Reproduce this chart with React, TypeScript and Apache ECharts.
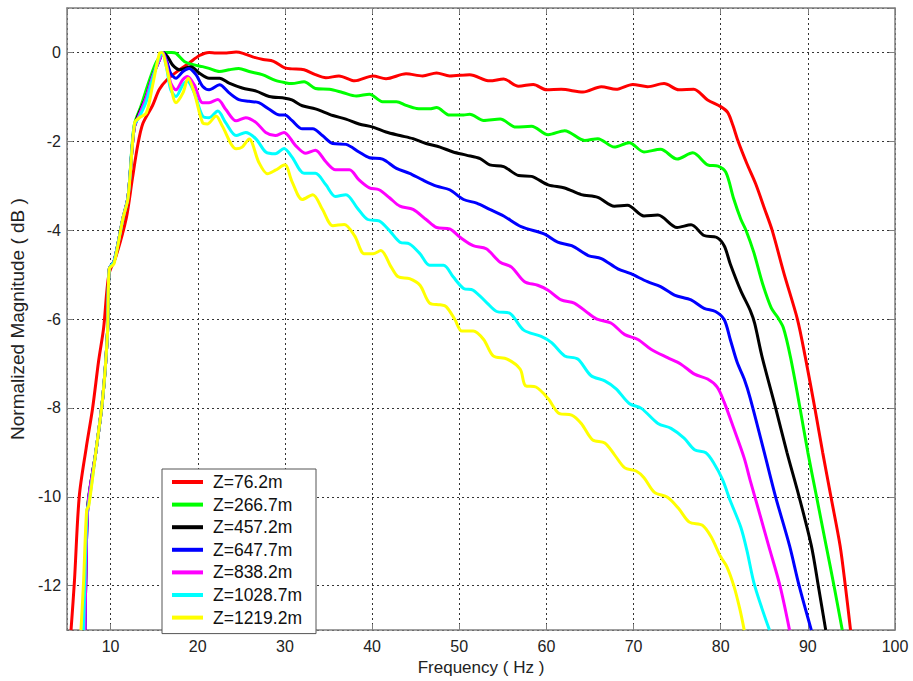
import React, { useEffect, useRef } from "react";
import * as echarts from "echarts";

const seriesNames = ["Z=76.2m", "Z=266.7m", "Z=457.2m", "Z=647.7m", "Z=838.2m", "Z=1028.7m", "Z=1219.2m"];
const seriesColors = ["#ff0000", "#00ff00", "#000000", "#0000ff", "#ff00ff", "#00ffff", "#ffff00"];

const z76 = [[5.46,-13],[5.85,-11.9],[6.4,-10],[7.2,-8.9],[7.94,-8.0],[8.62,-6.95],[9.2,-6.2],[9.8,-5.0],[10.6,-4.6],[11.8,-3.73],[12.5,-2.84],[13.1,-2.1],[13.7,-1.6],[14.8,-1.2],[15.6,-0.83],[16.5,-0.61],[17.9,-0.39],[19.0,-0.24],[20.2,-0.07],[21.3,0],[22.1,-0.01],[23.3,-0.01],[24.4,0.01],[25.2,-0.02],[26.3,-0.1],[27.5,-0.16],[28.7,-0.2],[30.0,-0.35],[30.8,-0.37],[32.2,-0.39],[33.5,-0.5],[34.7,-0.57],[36.2,-0.53],[38.0,-0.64],[40.1,-0.53],[41.6,-0.59],[43.9,-0.48],[45.8,-0.53],[47.4,-0.46],[48.9,-0.53],[51.2,-0.5],[53.5,-0.64],[55.1,-0.6],[56.8,-0.76],[58.5,-0.72],[60.0,-0.84],[61.7,-0.83],[64.2,-0.89],[66.3,-0.77],[68.0,-0.83],[69.9,-0.72],[71.6,-0.77],[73.5,-0.7],[75.2,-0.84],[76.9,-0.83],[78.5,-1.07],[80.0,-1.22],[80.8,-1.35],[81.4,-1.64],[82.0,-2.0],[83.0,-2.5],[84.0,-2.95],[85.0,-3.5],[85.9,-4.0],[87.3,-5.0],[88.8,-6.0],[89.7,-6.85],[90.8,-8.0],[91.7,-9.0],[92.65,-10.0],[93.7,-11.1],[94.3,-12],[94.9,-13]];

const z267 = [[7.0,-13],[7.1,-11.9],[7.37,-10.2],[8.3,-9.0],[9.1,-7.77],[9.65,-6.28],[9.85,-4.87],[10.4,-4.7],[11.4,-3.75],[12.0,-3.25],[12.7,-1.65],[13.5,-1.2],[14.5,-0.6],[15.3,-0.2],[16.2,0],[17.0,0],[17.5,-0.02],[18.5,-0.21],[19.6,-0.28],[20.55,-0.32],[21.3,-0.36],[22.5,-0.43],[23.6,-0.39],[24.7,-0.36],[25.9,-0.43],[27.4,-0.5],[28.9,-0.63],[30.0,-0.68],[30.8,-0.7],[32.2,-0.66],[33.5,-0.81],[35.1,-0.83],[36.6,-0.9],[38.2,-0.98],[39.7,-0.94],[41.2,-1.11],[42.8,-1.11],[43.9,-1.19],[45.1,-1.26],[46.6,-1.27],[47.4,-1.24],[48.9,-1.41],[50.5,-1.41],[51.2,-1.39],[52.8,-1.53],[54.7,-1.5],[56.5,-1.68],[58.3,-1.66],[60.2,-1.85],[62.1,-1.76],[64.4,-1.98],[65.9,-1.94],[67.8,-2.13],[69.5,-2.03],[71.2,-2.24],[73.1,-2.18],[75.0,-2.4],[76.8,-2.26],[78.5,-2.53],[79.7,-2.56],[80.6,-2.7],[81.5,-3.3],[82.3,-3.75],[82.9,-4.0],[83.8,-4.5],[84.8,-5.2],[85.8,-5.75],[86.5,-5.95],[87.2,-6.2],[88.0,-6.85],[89.1,-8.0],[90.0,-9.0],[91.0,-10.0],[92.1,-11.1],[93.0,-12],[93.95,-13]];

const z457 = [[7.05,-13],[7.15,-11.9],[7.4,-10.2],[8.3,-9.0],[9.1,-7.77],[9.65,-6.28],[9.85,-4.87],[10.4,-4.7],[11.4,-3.75],[12.0,-3.25],[12.7,-1.7],[13.3,-1.35],[14.1,-0.99],[14.8,-0.54],[15.6,-0.17],[16.0,0],[16.55,-0.1],[17.1,-0.28],[17.9,-0.39],[18.5,-0.36],[19.2,-0.32],[20.2,-0.47],[21.3,-0.58],[22.5,-0.58],[23.6,-0.69],[25.1,-0.8],[26.7,-0.87],[28.2,-0.99],[30.0,-1.03],[30.8,-1.07],[32.0,-1.2],[33.5,-1.27],[35.5,-1.42],[37.0,-1.5],[38.5,-1.61],[40.1,-1.68],[41.6,-1.79],[43.2,-1.87],[44.7,-1.94],[46.2,-2.05],[47.8,-2.13],[49.3,-2.24],[50.8,-2.31],[52.4,-2.39],[53.5,-2.53],[55.1,-2.57],[56.8,-2.77],[58.3,-2.79],[60.2,-2.98],[62.1,-3.05],[64.0,-3.2],[65.9,-3.26],[67.8,-3.46],[69.3,-3.44],[71.2,-3.68],[72.8,-3.66],[75.0,-3.94],[76.6,-3.88],[78.1,-4.12],[79.5,-4.16],[80.4,-4.35],[81.1,-4.76],[82.3,-5.36],[83.4,-5.81],[83.9,-6.1],[84.75,-6.85],[86.3,-8.0],[87.6,-9.0],[89.0,-10.0],[90.4,-11.1],[91.2,-12],[92.05,-13]];

const z648 = [[7.05,-13],[7.15,-11.9],[7.4,-10.2],[8.3,-9.0],[9.1,-7.77],[9.65,-6.28],[9.85,-4.87],[10.4,-4.7],[11.4,-3.75],[12.0,-3.25],[12.7,-1.7],[13.3,-1.4],[14.1,-1.0],[14.8,-0.55],[15.6,-0.17],[16.0,0],[16.4,-0.17],[16.9,-0.47],[17.5,-0.58],[18.3,-0.43],[19.0,-0.36],[19.8,-0.5],[20.55,-0.76],[21.3,-0.84],[22.5,-0.73],[23.6,-0.91],[24.7,-1.06],[25.9,-1.1],[27.0,-1.13],[28.2,-1.28],[29.4,-1.41],[30.0,-1.41],[30.8,-1.53],[32.0,-1.72],[33.2,-1.72],[34.3,-1.87],[35.5,-2.05],[37.0,-2.07],[38.5,-2.24],[39.7,-2.37],[41.2,-2.4],[42.8,-2.61],[44.3,-2.72],[45.8,-2.87],[47.4,-3.01],[48.9,-3.09],[50.5,-3.31],[52.0,-3.39],[53.5,-3.53],[55.1,-3.68],[57.1,-3.92],[59.8,-4.09],[61.3,-4.27],[62.9,-4.35],[64.8,-4.57],[66.3,-4.64],[68.2,-4.87],[69.7,-4.98],[71.6,-5.16],[73.1,-5.27],[74.7,-5.46],[76.6,-5.57],[78.1,-5.76],[79.4,-5.83],[80.4,-6.01],[81.1,-6.46],[81.9,-6.98],[82.7,-7.35],[83.4,-7.79],[85.0,-9.0],[86.3,-10.0],[87.9,-11.1],[89.0,-12],[90.4,-13]];

const z838 = [[7.05,-13],[7.15,-11.9],[7.4,-10.2],[8.3,-9.0],[9.1,-7.77],[9.65,-6.28],[9.85,-4.87],[10.4,-4.7],[11.4,-3.75],[12.0,-3.25],[12.7,-1.7],[13.3,-1.4],[14.1,-1.0],[14.8,-0.55],[15.6,-0.17],[16.0,0],[16.4,-0.24],[16.9,-0.69],[17.5,-0.84],[18.3,-0.61],[18.8,-0.54],[19.6,-0.73],[20.55,-1.13],[21.3,-1.13],[22.3,-1.06],[23.2,-1.28],[24.4,-1.54],[25.5,-1.47],[26.7,-1.58],[27.8,-1.8],[28.9,-1.87],[29.9,-1.8],[31.2,-2.09],[32.4,-2.27],[33.5,-2.2],[34.7,-2.46],[35.8,-2.64],[37.4,-2.64],[38.5,-2.87],[39.7,-3.05],[40.8,-3.09],[42.0,-3.27],[43.2,-3.46],[44.7,-3.53],[46.2,-3.76],[47.4,-3.94],[48.9,-3.97],[50.1,-4.16],[51.6,-4.35],[53.1,-4.42],[54.7,-4.72],[56.0,-4.83],[57.5,-5.16],[59.0,-5.24],[60.2,-5.35],[61.7,-5.57],[63.2,-5.64],[64.8,-5.87],[65.9,-6.01],[67.4,-6.09],[69.0,-6.35],[70.5,-6.46],[72.0,-6.68],[73.9,-6.87],[75.4,-7.01],[77.0,-7.24],[78.5,-7.35],[79.6,-7.53],[80.4,-7.87],[81.5,-8.46],[82.7,-9.13],[83.4,-9.64],[84.5,-10.4],[85.5,-11.1],[86.8,-12],[87.9,-13]];

const z1029 = [[6.9,-13],[7.05,-11.9],[7.3,-10.3],[7.5,-10.15],[8.3,-9.0],[9.1,-7.77],[9.65,-6.28],[9.85,-4.87],[10.4,-4.7],[11.4,-3.75],[12.0,-3.25],[12.7,-1.65],[13.3,-1.45],[14.1,-1.1],[14.8,-0.6],[15.6,-0.1],[15.9,0],[16.4,-0.32],[16.9,-0.84],[17.5,-0.99],[18.3,-0.73],[18.8,-0.65],[19.6,-0.91],[20.55,-1.43],[21.3,-1.47],[22.3,-1.32],[23.2,-1.58],[24.4,-1.87],[25.5,-1.8],[26.7,-1.95],[27.8,-2.24],[28.9,-2.28],[29.9,-2.16],[30.8,-2.35],[32.2,-2.72],[33.5,-2.72],[34.7,-2.98],[35.8,-3.24],[37.0,-3.2],[38.3,-3.5],[39.5,-3.76],[40.8,-3.79],[42.0,-4.01],[43.2,-4.27],[44.3,-4.31],[45.5,-4.53],[46.6,-4.79],[48.2,-4.79],[49.3,-5.05],[50.5,-5.31],[51.6,-5.35],[53.2,-5.64],[54.3,-5.83],[55.8,-5.87],[57.4,-6.25],[59.4,-6.39],[60.6,-6.53],[62.1,-6.83],[63.6,-6.9],[65.1,-7.27],[66.7,-7.39],[68.0,-7.57],[69.5,-7.9],[70.9,-8.01],[72.8,-8.35],[74.3,-8.46],[75.8,-8.68],[77.0,-8.94],[78.3,-9.01],[79.2,-9.24],[80.2,-9.61],[81.1,-10.09],[82.3,-10.68],[83.0,-11.2],[83.9,-12],[85.6,-13]];

const z1219 = [[6.6,-13],[6.9,-11.9],[7.25,-10.3],[7.5,-10.2],[8.3,-9.0],[9.1,-7.77],[9.65,-6.28],[9.85,-4.87],[10.4,-4.75],[11.4,-3.75],[12.0,-3.28],[12.76,-1.58],[13.3,-1.47],[14.1,-1.36],[14.8,-0.76],[15.6,-0.02],[15.9,0],[16.4,-0.32],[16.9,-0.76],[17.5,-1.13],[18.3,-0.91],[18.9,-0.58],[19.6,-0.91],[20.55,-1.58],[21.1,-1.61],[22.1,-1.43],[22.8,-1.65],[24.4,-2.17],[25.1,-2.13],[25.9,-1.95],[27.0,-2.47],[28.0,-2.73],[28.9,-2.65],[30.0,-2.53],[30.8,-2.9],[32.0,-3.31],[33.2,-3.2],[34.3,-3.53],[35.5,-3.9],[36.8,-3.87],[38.0,-4.13],[39.1,-4.53],[40.1,-4.53],[41.0,-4.46],[42.2,-4.83],[43.0,-5.05],[44.3,-5.09],[45.5,-5.24],[46.6,-5.64],[47.8,-5.68],[48.5,-5.72],[49.5,-6.01],[50.3,-6.27],[51.6,-6.27],[52.8,-6.46],[53.9,-6.83],[55.5,-6.9],[57.0,-7.13],[57.6,-7.5],[58.8,-7.53],[60.2,-7.79],[61.5,-8.13],[62.9,-8.16],[64.0,-8.35],[65.3,-8.72],[66.7,-8.79],[67.8,-9.05],[69.0,-9.35],[70.3,-9.42],[71.2,-9.57],[72.4,-9.9],[73.9,-10.01],[75.2,-10.27],[76.4,-10.57],[77.9,-10.64],[78.9,-10.9],[80.0,-11.35],[80.7,-11.57],[81.5,-12],[82.2,-12.53],[82.7,-13]];

const seriesData = [z76, z267, z457, z648, z838, z1029, z1219];

const xRange = [5, 100];
const yRange = [-13, 1];
const xStep = 10;
const yStep = 2;

const FONT = "'Liberation Sans', Arial, Helvetica, sans-serif";
const BOX = "#7f7f7f";

export default function App() {
  const ref = useRef<HTMLDivElement>(null);
  useEffect(() => {
    document.body.style.margin = "0";
    if (!ref.current) return;
    const chart = echarts.init(ref.current, null, { renderer: "svg" });
    const tickCommon = { show: true, inside: true, length: 6, lineStyle: { color: BOX, width: 1 } };
    const lineCommon = { show: true, onZero: false, lineStyle: { color: BOX, width: 1.5 } };
    const split = { show: true, lineStyle: { color: "#333", type: [2, 3], width: 1 } };
    const option: any = {
      animation: false,
      backgroundColor: "#ffffff",
      grid: { left: 64, right: 18, top: 8, bottom: 47, containLabel: false },
      xAxis: [
        {
          type: "value", position: "bottom", min: xRange[0], max: xRange[1],
          minInterval: xStep, maxInterval: xStep,
          name: "Frequency ( Hz )", nameLocation: "middle", nameGap: 28,
          nameTextStyle: { fontFamily: FONT, fontSize: 17, color: "#222" },
          axisLine: lineCommon, axisTick: tickCommon,
          axisLabel: { showMinLabel: false, showMaxLabel: true, margin: 8, fontFamily: FONT, fontSize: 16, color: "#222" },
          splitLine: split,
        },
        {
          type: "value", position: "top", min: xRange[0], max: xRange[1],
          minInterval: xStep, maxInterval: xStep,
          axisLine: lineCommon, axisTick: tickCommon,
          axisLabel: { show: false }, splitLine: { show: false },
        },
      ],
      yAxis: [
        {
          type: "value", position: "left", min: yRange[0], max: yRange[1],
          minInterval: yStep, maxInterval: yStep,
          name: "Normalized Magnitude ( dB )", nameLocation: "middle", nameGap: 29,
          nameTextStyle: { fontFamily: FONT, fontSize: 19, color: "#222" },
          axisLine: lineCommon, axisTick: tickCommon,
          axisLabel: { showMinLabel: false, showMaxLabel: false, margin: 6, fontFamily: FONT, fontSize: 16, color: "#222" },
          splitLine: split,
        },
        {
          type: "value", position: "right", min: yRange[0], max: yRange[1],
          minInterval: yStep, maxInterval: yStep,
          axisLine: lineCommon, axisTick: tickCommon,
          axisLabel: { show: false }, splitLine: { show: false },
        },
      ],
      legend: {
        orient: "vertical", left: 162, top: 469,
        data: seriesNames, icon: "rect", itemWidth: 31, itemHeight: 4, itemGap: 4.6,
        padding: [4, 14, 7, 10],
        backgroundColor: "#ffffff", borderColor: "#555", borderWidth: 1, borderRadius: 0,
        textStyle: { fontFamily: FONT, fontSize: 17.5, color: "#111", lineHeight: 16, padding: [0, 0, 0, 5] },
        selectedMode: false,
      },
      series: seriesNames.map((name, i) => ({
        type: "line", name, data: seriesData[i], color: seriesColors[i],
        xAxisIndex: 0, yAxisIndex: 0,
        showSymbol: false, symbol: "none", smooth: 0.3,
        lineStyle: { width: 3, color: seriesColors[i] },
        z: 2 + i,
      })),
    };
    chart.setOption(option);
    return () => chart.dispose();
  }, []);
  return <div ref={ref} style={{ width: 913, height: 681 }} />;
}
